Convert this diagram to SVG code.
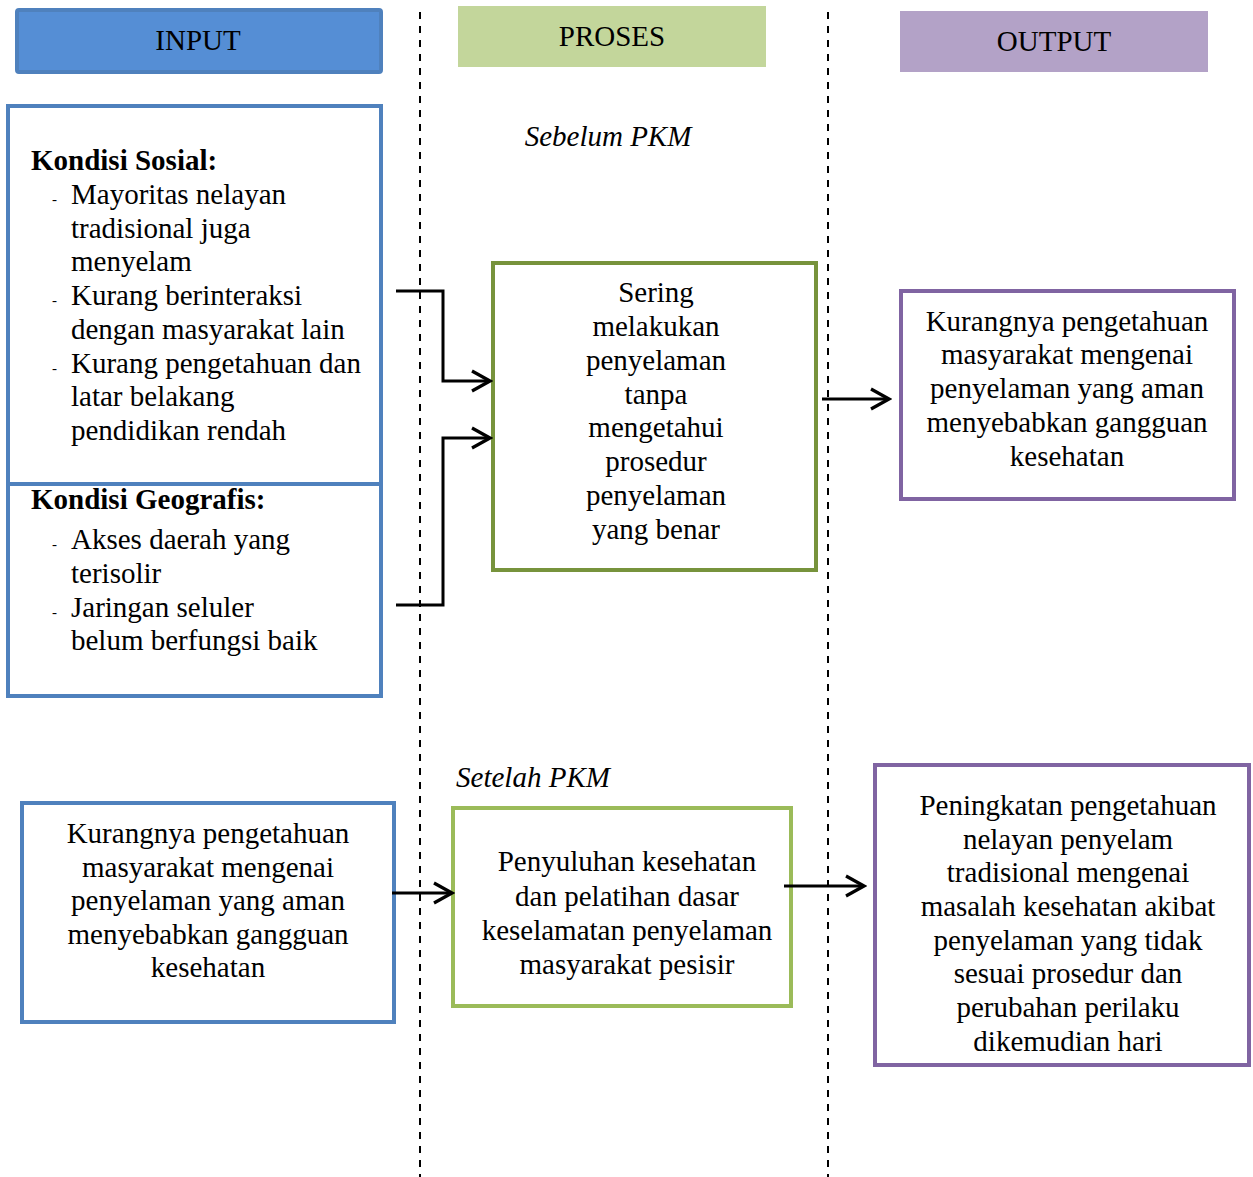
<svg xmlns="http://www.w3.org/2000/svg" width="1253" height="1177" viewBox="0 0 1253 1177">
<defs>
<style>
text{font-family:"Liberation Serif","Times New Roman",serif;font-size:29px;fill:#000}
.c{text-anchor:middle}
.b{font-weight:bold}
.i{font-style:italic}
.d{font-size:15px}
.box{fill:#fff;stroke-width:4}
.blue{stroke:#4f81bd}
.green{stroke:#77933c}
.lgreen{stroke:#9bbb59}
.purple{stroke:#8064a2}
.conn{fill:none;stroke:#000;stroke-width:3}
.dash{stroke:#000;stroke-width:2;stroke-dasharray:7 7}
</style>
<marker id="arr" viewBox="0 0 24 24" refX="21" refY="12" markerWidth="24" markerHeight="24" markerUnits="userSpaceOnUse" orient="auto">
<path d="M3,2 L21,12 L3,22" fill="none" stroke="#000" stroke-width="3.2"/>
</marker>
</defs>
<rect width="1253" height="1177" fill="#fff"/>
<g id="guides">
<line class="dash" x1="420" y1="12" x2="420" y2="1177"/>
<line class="dash" x1="828" y1="12" x2="828" y2="1177"/>
</g>
<g id="header-input">
<rect x="17" y="10" width="364" height="62" rx="2" fill="#558ed5" stroke="#4f81bd" stroke-width="4"/>
<text class="c" x="198" y="50">INPUT</text>
</g>
<g id="header-proses">
<rect x="458" y="6" width="308" height="61" fill="#c3d69b"/>
<text class="c" x="612" y="46">PROSES</text>
</g>
<g id="header-output">
<rect x="900" y="11" width="308" height="61" fill="#b3a2c7"/>
<text class="c" x="1054" y="51">OUTPUT</text>
</g>
<g id="label-sebelum"><text class="c i" x="608" y="146">Sebelum PKM</text></g>
<g id="label-setelah"><text class="i" x="456" y="787" textLength="154" lengthAdjust="spacingAndGlyphs">Setelah PKM</text></g>
<g id="input-kondisi">
<rect class="box blue" x="8" y="106" width="373" height="590"/>
<line x1="8" y1="484" x2="381" y2="484" stroke="#4f81bd" stroke-width="4"/>
<text class="b" x="31" y="170">Kondisi Sosial:</text>
<text class="d" x="52" y="204">-</text><text x="71" y="204">Mayoritas nelayan</text>
<text x="71" y="238">tradisional juga</text>
<text x="71" y="271">menyelam</text>
<text class="d" x="52" y="305">-</text><text x="71" y="305">Kurang berinteraksi</text>
<text x="71" y="339">dengan masyarakat lain</text>
<text class="d" x="52" y="373">-</text><text x="71" y="373">Kurang pengetahuan dan</text>
<text x="71" y="406">latar belakang</text>
<text x="71" y="440">pendidikan rendah</text>
<text class="b" x="31" y="509">Kondisi Geografis:</text>
<text class="d" x="52" y="549">-</text><text x="71" y="549">Akses daerah yang</text>
<text x="71" y="583">terisolir</text>
<text class="d" x="52" y="617">-</text><text x="71" y="617">Jaringan seluler</text>
<text x="71" y="650">belum berfungsi baik</text>
</g>
<g id="proses-sebelum">
<rect class="box green" x="493" y="263" width="323" height="307"/>
<text class="c" x="656" y="302">Sering</text>
<text class="c" x="656" y="336">melakukan</text>
<text class="c" x="656" y="370">penyelaman</text>
<text class="c" x="656" y="404">tanpa</text>
<text class="c" x="656" y="437">mengetahui</text>
<text class="c" x="656" y="471">prosedur</text>
<text class="c" x="656" y="505">penyelaman</text>
<text class="c" x="656" y="539">yang benar</text>
</g>
<g id="output-sebelum">
<rect class="box purple" x="901" y="291" width="333" height="208"/>
<text class="c" x="1067" y="331">Kurangnya pengetahuan</text>
<text class="c" x="1067" y="364">masyarakat mengenai</text>
<text class="c" x="1067" y="398">penyelaman yang aman</text>
<text class="c" x="1067" y="432">menyebabkan gangguan</text>
<text class="c" x="1067" y="466">kesehatan</text>
</g>
<g id="input-setelah">
<rect class="box blue" x="22" y="803" width="372" height="219"/>
<text class="c" x="208" y="843">Kurangnya pengetahuan</text>
<text class="c" x="208" y="877">masyarakat mengenai</text>
<text class="c" x="208" y="910">penyelaman yang aman</text>
<text class="c" x="208" y="944">menyebabkan gangguan</text>
<text class="c" x="208" y="977">kesehatan</text>
</g>
<g id="proses-setelah">
<rect class="box lgreen" x="453" y="808" width="338" height="198"/>
<text class="c" x="627" y="871">Penyuluhan kesehatan</text>
<text class="c" x="627" y="906">dan pelatihan dasar</text>
<text class="c" x="627" y="940">keselamatan penyelaman</text>
<text class="c" x="627" y="974">masyarakat pesisir</text>
</g>
<g id="output-setelah">
<rect class="box purple" x="875" y="765" width="374" height="300"/>
<text class="c" x="1068" y="815">Peningkatan pengetahuan</text>
<text class="c" x="1068" y="849">nelayan penyelam</text>
<text class="c" x="1068" y="882">tradisional mengenai</text>
<text class="c" x="1068" y="916">masalah kesehatan akibat</text>
<text class="c" x="1068" y="950">penyelaman yang tidak</text>
<text class="c" x="1068" y="983">sesuai prosedur dan</text>
<text class="c" x="1068" y="1017">perubahan perilaku</text>
<text class="c" x="1068" y="1051">dikemudian hari</text>
</g>
<g id="connectors">
<path class="conn" d="M396,291 H443 V381 H490" marker-end="url(#arr)"/>
<path class="conn" d="M396,605 H443 V438 H490" marker-end="url(#arr)"/>
<path class="conn" d="M822,399 H889" marker-end="url(#arr)"/>
<path class="conn" d="M392,893 H452" marker-end="url(#arr)"/>
<path class="conn" d="M784,886 H864" marker-end="url(#arr)"/>
</g>
</svg>
